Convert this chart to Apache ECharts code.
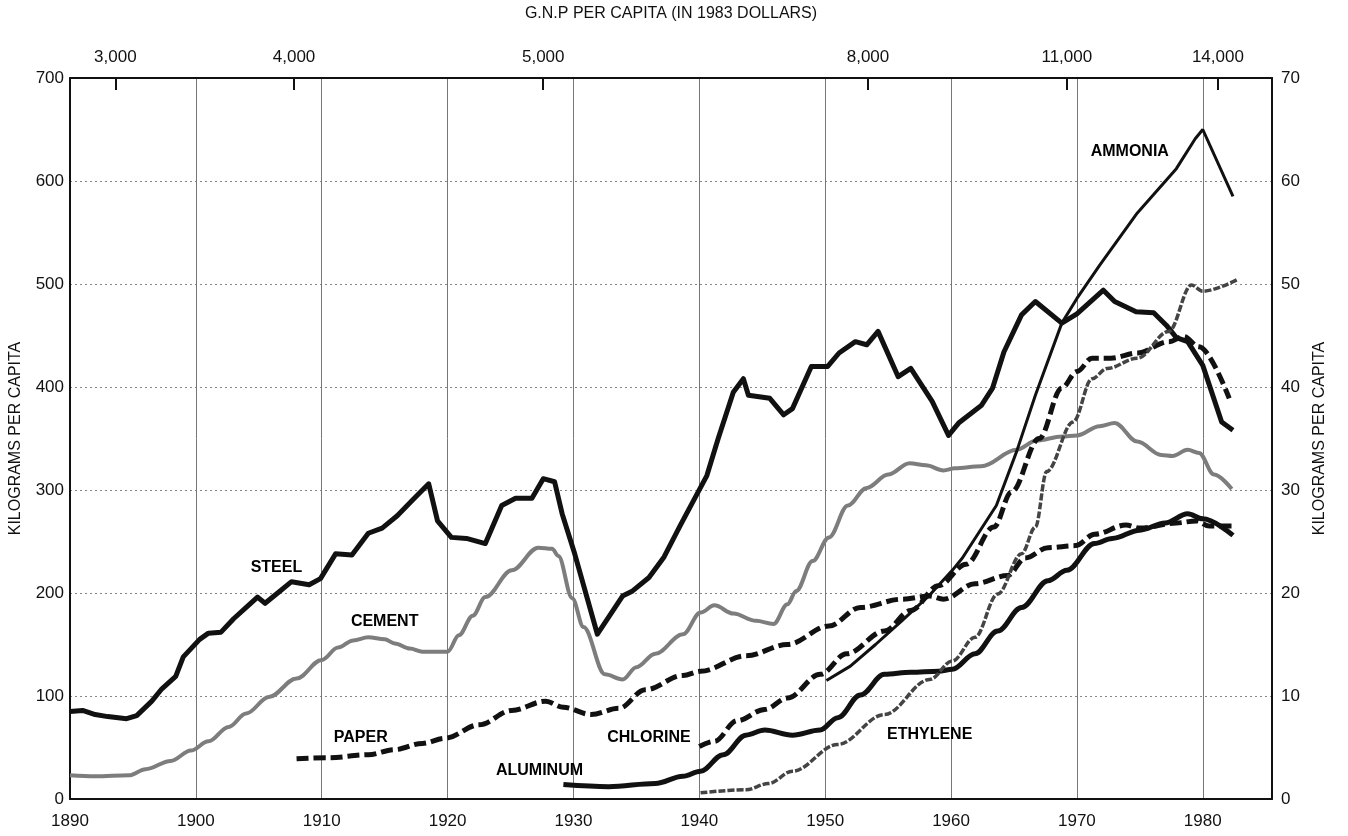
<!DOCTYPE html>
<html>
<head>
<meta charset="utf-8">
<script src="https://cdn.jsdelivr.net/npm/echarts@6/dist/echarts.min.js"></script>
<style>
  html, body { margin: 0; padding: 0; background: #fff; }
  #chart { width: 1348px; height: 836px; }
</style>
</head>
<body>
<div id="chart"></div>
<script>
// ---- Data (years, kilograms per capita) ----
// Left axis (0-700 kg)
const steel = [[1890,85],[1891,86],[1892,82],[1893,80],[1894.5,78],[1895.3,81],[1896.5,95],[1897.3,107],[1898.4,119],[1899,138],[1900.3,155],[1901,161],[1902,162],[1903,175],[1904,186],[1904.9,196],[1905.5,190],[1906.5,200],[1907.6,211],[1909,208],[1909.9,214],[1911.1,238],[1912.4,237],[1913.7,258],[1914.8,263],[1916,275],[1917.2,290],[1918.5,306],[1919.2,270],[1920.3,254],[1921.5,253],[1923,248],[1924.3,285],[1925.4,292],[1926.7,292],[1927.6,311],[1928.5,308],[1929.1,277],[1930.1,238],[1931.9,160],[1933.9,197],[1934.7,202],[1936,215],[1937.2,235],[1938.5,266],[1940.6,314],[1941.5,350],[1942.7,395],[1943.5,408],[1943.9,392],[1945.6,389],[1946.7,373],[1947.4,379],[1948.9,420],[1950.2,420],[1951.1,433],[1952.4,444],[1953.3,441],[1954.2,454],[1955.8,410],[1956.8,418],[1958.5,386],[1959.8,353],[1960.6,365],[1962.4,382],[1963.3,399],[1964.2,434],[1965.6,470],[1966.7,483],[1968.8,462],[1970,471],[1972.1,494],[1973,483],[1974.7,473],[1976.1,472],[1977.1,460],[1977.9,448],[1978.8,444],[1980,421],[1981.5,366],[1982.4,358]];
const cement = [[1890,23],[1892,22],[1894.7,23],[1896,29],[1898,37],[1899.6,47],[1901,56],[1902.6,70],[1904,83],[1905.8,99],[1908,117],[1910,135],[1911.3,147],[1912.5,154],[1913.7,157],[1915,155],[1915.8,151],[1917,146],[1918,143],[1920,143],[1920.9,159],[1922,178],[1923,196],[1925.1,222],[1927.2,244],[1928.3,243],[1928.8,236],[1929.9,195],[1930.8,167],[1932.5,121],[1933.9,116],[1935,128],[1936.5,141],[1938.7,160],[1940.1,181],[1941.2,188],[1942.7,180],[1944.5,173],[1945.9,170],[1947,189],[1947.7,202],[1949,231],[1950.3,254],[1951.8,285],[1953.3,302],[1955,315],[1956.7,326],[1958,324],[1959.4,319],[1960.3,321],[1962.4,323],[1965.2,339],[1966.8,348],[1968.8,352],[1970,353],[1971.8,362],[1973,365],[1974.8,347],[1976.7,334],[1977.6,333],[1978.8,339],[1979.7,336],[1980.9,315],[1982.3,301]];
const paper = [[1908,39],[1910.5,40],[1913.7,43],[1915.8,48],[1918,54],[1919.8,59],[1922.5,72],[1925.1,86],[1927.8,95],[1929.2,89],[1931.4,82],[1933.6,88],[1935.7,106],[1938.7,120],[1940.1,124],[1943.7,139],[1947,150],[1950.3,168],[1952.8,186],[1956.1,194],[1958.3,197],[1959.4,194],[1961.9,209],[1964.5,217],[1965.9,234],[1967.7,244],[1969.9,246],[1971.4,257],[1973.9,266],[1975,263],[1977.9,268],[1979.5,270],[1980.5,265],[1982.4,265]];
// Right axis (0-70 kg)
const aluminum = [[1929.2,1.4],[1932.8,1.2],[1936.5,1.5],[1938.7,2.2],[1940.1,2.7],[1941.9,4.3],[1943.7,6.2],[1945.2,6.7],[1947.4,6.2],[1949.6,6.7],[1951,7.9],[1952.8,10.1],[1954.7,12.1],[1956.8,12.3],[1959,12.4],[1960.1,12.6],[1961.9,14.1],[1963.7,16.3],[1965.6,18.6],[1967.7,21.2],[1969.2,22.2],[1971.4,24.8],[1972.8,25.3],[1975,26.1],[1977,26.8],[1978.8,27.7],[1980,27.2],[1982.4,25.6]];
const chlorine = [[1940,5.1],[1941.2,5.6],[1943,7.6],[1945.2,8.7],[1947,9.8],[1949.6,12.1],[1951.7,14.1],[1954.7,16.3],[1956.8,18.3],[1959,20.7],[1961.2,22.8],[1963.4,26.4],[1964.8,29.8],[1967,35],[1968.8,39.9],[1970,41.5],[1971.2,42.8],[1972.7,42.8],[1974.8,43.3],[1977.3,44.4],[1978.5,44.9],[1979.7,43.9],[1982.1,38.9]];
const ethylene = [[1940.1,0.6],[1943.7,0.9],[1945.5,1.5],[1947.4,2.7],[1951,5.3],[1954.7,8.2],[1958.3,11.6],[1960.1,13.4],[1961.9,15.7],[1963.7,19.9],[1965.6,23.8],[1966.7,26.4],[1967.6,31.8],[1969.7,36.6],[1971.2,40.8],[1972.4,41.8],[1974.8,42.8],[1977.3,45.4],[1979.1,49.9],[1980,49.3],[1982.7,50.4]];
const ammonia = [[1950.1,11.5],[1952,12.9],[1954,15],[1956,17.2],[1958.3,19.8],[1960.1,22.2],[1960.9,23.4],[1963.6,28.5],[1965.2,33.7],[1966.7,39.2],[1968.8,46.2],[1970,48.6],[1971.8,51.8],[1974.8,56.9],[1977.9,61.2],[1979.4,64.1],[1980,65],[1982.4,58.5]];

// Series name labels: [year, kg (left axis scale), text]
const seriesLabels = [[1906.4,225,'STEEL'],[1915.0,172,'CEMENT'],[1913.1,60,'PAPER'],[1927.3,28,'ALUMINUM'],[1936.0,60,'CHLORINE'],[1958.3,63,'ETHYLENE'],[1974.2,629,'AMMONIA']];

// Top axis: G.N.P. per capita tick labels and the years where they sit
const gnpYears = [1893.6, 1907.8, 1927.6, 1953.4, 1969.2, 1981.2];
const gnpLabels = ['3,000', '4,000', '5,000', '8,000', '11,000', '14,000'];

const decadeTicks = [1890,1900,1910,1920,1930,1940,1950,1960,1970,1980];

const FONT = '"Liberation Sans", Arial, sans-serif';
const chart = echarts.init(document.getElementById('chart'), null, {renderer: 'canvas'});

function lineSeries(name, data, yIdx, style, smooth) {
  return {
    name, type: 'line', data, xAxisIndex: 0, yAxisIndex: yIdx,
    showSymbol: false, symbol: 'none', smooth: smooth, smoothMonotone: 'x',
    lineStyle: style, z: 3, animation: false
  };
}

chart.setOption({
  animation: false,
  backgroundColor: '#fff',
  textStyle: { fontFamily: FONT },
  grid: { left: 70, right: 76, top: 78, bottom: 37, containLabel: false, outerBoundsMode: 'none' },
  xAxis: [
    {
      type: 'value', position: 'bottom', min: 1890, max: 1985.5, interval: 10,
      axisLine: { show: true, onZero: false, lineStyle: { color: '#111', width: 2 } },
      axisTick: { show: false },
      axisLabel: { customValues: decadeTicks, color: '#111', fontSize: 17, fontFamily: FONT, margin: 14,
                   formatter: v => String(v) },
      splitLine: { show: true, lineStyle: { color: '#777', width: 1 } }
    },
    {
      type: 'value', position: 'top', min: 1890, max: 1985.5,
      name: 'G.N.P PER CAPITA (IN 1983 DOLLARS)', nameLocation: 'middle', nameGap: 56,
      nameTextStyle: { fontSize: 16, color: '#111', fontFamily: FONT },
      axisLine: { show: true, onZero: false, lineStyle: { color: '#111', width: 2 } },
      axisTick: { show: true, inside: true, length: 12, customValues: gnpYears, lineStyle: { color: '#111', width: 2 } },
      axisLabel: { customValues: gnpYears, color: '#111', fontSize: 17, fontFamily: FONT, margin: 12,
                   formatter: v => { const i = gnpYears.indexOf(v); return i >= 0 ? gnpLabels[i] : ''; } },
      splitLine: { show: false }
    }
  ],
  yAxis: [
    {
      type: 'value', position: 'left', min: 0, max: 700, interval: 100,
      name: 'KILOGRAMS PER CAPITA', nameLocation: 'middle', nameGap: 46, nameRotate: 90,
      nameTextStyle: { fontSize: 16, color: '#111', fontFamily: FONT },
      axisLine: { show: true, onZero: false, lineStyle: { color: '#111', width: 2 } },
      axisTick: { show: false },
      axisLabel: { color: '#111', fontSize: 17, fontFamily: FONT, margin: 6 },
      splitLine: { show: true, lineStyle: { color: '#888', width: 1, type: [2, 3] } }
    },
    {
      type: 'value', position: 'right', min: 0, max: 70, interval: 10,
      name: 'KILOGRAMS PER CAPITA', nameLocation: 'middle', nameGap: 40, nameRotate: 90,
      nameTextStyle: { fontSize: 16, color: '#111', fontFamily: FONT },
      axisLine: { show: true, onZero: false, lineStyle: { color: '#111', width: 2 } },
      axisTick: { show: false },
      axisLabel: { color: '#111', fontSize: 17, fontFamily: FONT, margin: 9 },
      splitLine: { show: false }
    }
  ],
  series: [
    lineSeries('Cement', cement, 0, { color: '#7d7d7d', width: 4 }, 0.35),
    lineSeries('Paper', paper, 0, { color: '#111', width: 5, type: [12, 5] }, 0.35),
    lineSeries('Steel', steel, 0, { color: '#111', width: 5, join: 'round' }, false),
    lineSeries('Aluminum', aluminum, 1, { color: '#111', width: 5 }, 0.35),
    lineSeries('Chlorine', chlorine, 1, { color: '#111', width: 5, type: [12, 5] }, 0.35),
    lineSeries('Ethylene', ethylene, 1, { color: '#444', width: 3.5, type: [7, 2] }, 0.35),
    lineSeries('Ammonia', ammonia, 1, { color: '#111', width: 3 }, false),
    {
      name: 'labels', type: 'scatter', xAxisIndex: 0, yAxisIndex: 0,
      data: seriesLabels, symbolSize: 0, z: 5,
      itemStyle: { opacity: 1 },
      label: { show: true, position: 'inside', formatter: p => p.data[2], opacity: 1,
               color: '#000', fontSize: 16, fontWeight: 'bold', fontFamily: FONT },
      emphasis: { disabled: true }, silent: true
    }
  ]
});
</script>
</body>
</html>
